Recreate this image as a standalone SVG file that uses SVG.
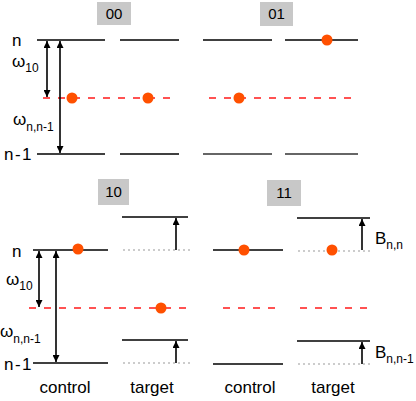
<svg xmlns="http://www.w3.org/2000/svg" width="416" height="401" viewBox="0 0 416 401">
<style>
text{font-family:"Liberation Sans",Arial,sans-serif;fill:#000}
.lbl{font-size:17px}
.sub{font-size:12px}
.tag{font-size:15px;text-anchor:middle}
.box{fill:#c8c8c8}
.lev{stroke:#000;stroke-width:1.6;fill:none}
.lev2{stroke:#333;stroke-width:1.6;fill:none}
.mid{stroke:#ff1a1a;stroke-width:1.6;stroke-dasharray:7 8;fill:none}
.ghost{stroke:#999;stroke-width:1.2;stroke-dasharray:2 3;fill:none}
.dot{fill:#ff5000}
.arr{stroke:#000;stroke-width:1.6;fill:none}
.cap{font-size:17px;text-anchor:middle}
.wide{letter-spacing:1.5px}
</style>
<defs>
<marker id="ah" viewBox="0 0 10 10" refX="10" refY="5" markerWidth="7" markerHeight="7" markerUnits="userSpaceOnUse" orient="auto-start-reverse">
<path d="M0,0 L10,5 L0,10 z" fill="#000"/>
</marker>
</defs>

<g id="panel-00">
<rect class="box" x="97" y="2" width="34" height="23"/>
<text class="tag" x="114" y="19">00</text>
<line class="lev" x1="37" y1="40" x2="105" y2="40"/>
<line class="lev" x1="120" y1="40" x2="179" y2="40"/>
<line class="lev" x1="37" y1="154" x2="105" y2="154"/>
<line class="lev" x1="120" y1="154" x2="179" y2="154"/>
<line class="mid" x1="43" y1="98" x2="178" y2="98"/>
<circle class="dot" cx="72" cy="98" r="5.5"/>
<circle class="dot" cx="148" cy="98" r="5.5"/>
<text class="lbl" x="12" y="46">n</text>
<text class="lbl" x="12" y="67">ω<tspan class="sub" dy="5">10</tspan></text>
<text class="lbl" x="13" y="125">ω<tspan class="sub" dy="6">n,n-1</tspan></text>
<text class="lbl wide" x="4" y="160">n-1</text>
</g>

<g id="panel-01">
<rect class="box" x="260" y="2" width="33" height="24"/>
<text class="tag" x="276.5" y="19">01</text>
<line class="lev" x1="203" y1="40" x2="272" y2="40"/>
<line class="lev" x1="285" y1="40" x2="358" y2="40"/>
<line class="lev2" x1="203" y1="154" x2="272" y2="154"/>
<line class="lev2" x1="285" y1="154" x2="358" y2="154"/>
<line class="mid" x1="209" y1="98" x2="357" y2="98"/>
<circle class="dot" cx="239" cy="98" r="5.5"/>
<circle class="dot" cx="327" cy="40" r="5.5"/>
</g>

<g id="panel-10">
<rect class="box" x="98" y="179" width="31" height="26"/>
<text class="tag" x="113.5" y="197">10</text>
<line class="lev" x1="33" y1="250" x2="108" y2="250"/>
<line class="ghost" x1="123" y1="250" x2="190" y2="250"/>
<line class="lev" x1="122" y1="217" x2="188" y2="217"/>
<line class="lev" x1="33" y1="363" x2="108" y2="363"/>
<line class="ghost" x1="123" y1="363" x2="190" y2="363"/>
<line class="lev" x1="122" y1="340" x2="188" y2="340"/>
<line class="mid" x1="29" y1="308" x2="190" y2="308"/>
<circle class="dot" cx="78" cy="249" r="5.5"/>
<circle class="dot" cx="161" cy="308" r="5.5"/>
<text class="lbl" x="12" y="257">n</text>
<text class="lbl" x="6" y="285">ω<tspan class="sub" dy="5">10</tspan></text>
<text class="lbl" x="0" y="337">ω<tspan class="sub" dy="6">n,n-1</tspan></text>
<text class="lbl wide" x="4" y="370">n-1</text>
<text class="cap" x="65" y="393">control</text>
<text class="cap" x="152" y="393">target</text>
</g>

<g id="panel-11">
<rect class="box" x="267" y="180" width="34" height="26"/>
<text class="tag" x="284" y="198">11</text>
<line class="lev" x1="213" y1="250" x2="283" y2="250"/>
<line class="ghost" x1="298" y1="251" x2="372" y2="251"/>
<line class="lev" x1="297" y1="218" x2="370" y2="218"/>
<line class="lev" x1="213" y1="364" x2="283" y2="364"/>
<line class="ghost" x1="298" y1="364" x2="372" y2="364"/>
<line class="lev" x1="297" y1="341" x2="370" y2="341"/>
<line class="mid" x1="223" y1="308" x2="283" y2="308"/>
<line class="mid" x1="300" y1="308" x2="372" y2="308"/>
<circle class="dot" cx="244" cy="250" r="5.5"/>
<circle class="dot" cx="332" cy="250" r="5.5"/>
<text class="lbl" x="375" y="244">B<tspan class="sub" dy="5">n,n</tspan></text>
<text class="lbl" x="375" y="358">B<tspan class="sub" dy="5">n,n-1</tspan></text>
<text class="cap" x="250" y="393">control</text>
<text class="cap" x="333" y="393">target</text>
</g>

<g id="connectors">
<line class="arr" x1="47" y1="41" x2="47" y2="97" marker-start="url(#ah)" marker-end="url(#ah)"/>
<line class="arr" x1="60" y1="41" x2="60" y2="153" marker-start="url(#ah)" marker-end="url(#ah)"/>
<line class="arr" x1="39" y1="251" x2="39" y2="307" marker-start="url(#ah)" marker-end="url(#ah)"/>
<line class="arr" x1="56" y1="251" x2="56" y2="362" marker-start="url(#ah)" marker-end="url(#ah)"/>
<line class="arr" x1="176" y1="250" x2="176" y2="218" marker-end="url(#ah)"/>
<line class="arr" x1="176" y1="363" x2="176" y2="341" marker-end="url(#ah)"/>
<line class="arr" x1="362" y1="250" x2="362" y2="219" marker-end="url(#ah)"/>
<line class="arr" x1="362" y1="364" x2="362" y2="342" marker-end="url(#ah)"/>
</g>
</svg>
